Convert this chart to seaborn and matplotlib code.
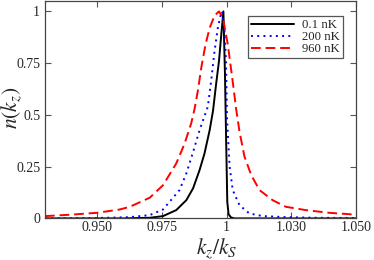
import numpy as np, pandas as pd
import matplotlib
matplotlib.use('Agg')
import matplotlib.pyplot as plt
import seaborn as sns

# values
x_01 = [0.930, 0.960, 0.9704, 0.9755, 0.9806, 0.9845, 0.9871, 0.9896, 0.9915, 0.9935,
        0.9948, 0.9960, 0.9971, 0.9979, 0.9988, 0.9994, 0.9999, 1.0003, 1.0008, 1.0017,
        1.0030, 1.050]
n_01 = [0.0, 0.0, 0.003, 0.011, 0.04, 0.088, 0.145, 0.233, 0.313, 0.426,
        0.52, 0.65, 0.76, 0.876, 1.0, 0.70, 0.35, 0.08, 0.02, 0.005,
        0.0, 0.0]

x_200 = [0.930, 0.950, 0.9627, 0.9704, 0.9755, 0.9819, 0.9845, 0.9871, 0.9896, 0.9928,
         0.9941, 0.9954, 0.9967, 0.9979, 0.9983, 0.9992, 0.9998, 1.0002, 1.0012, 1.0024,
         1.0050, 1.0088, 1.0140, 1.0229, 1.0350, 1.050]
n_200 = [0.0, 0.002, 0.006, 0.016, 0.043, 0.137, 0.217, 0.32, 0.426, 0.54,
         0.667, 0.81, 0.924, 0.99, 1.0, 0.91, 0.76, 0.48, 0.25, 0.137,
         0.064, 0.024, 0.011, 0.006, 0.003, 0.002]

x_960 = [0.930, 0.940, 0.950, 0.9588, 0.9627, 0.9704, 0.9755, 0.9806, 0.9838, 0.9864,
         0.9877, 0.9890, 0.9903, 0.9919, 0.9935, 0.9954, 0.9971, 0.9986, 1.0005, 1.0024,
         1.0037, 1.0050, 1.0069, 1.0095, 1.0127, 1.0178, 1.0229, 1.0306, 1.0396, 1.050]
n_960 = [0.011, 0.018, 0.027, 0.043, 0.056, 0.10, 0.16, 0.265, 0.36, 0.46,
         0.53, 0.62, 0.73, 0.84, 0.92, 0.98, 1.0, 0.97, 0.84, 0.66,
         0.53, 0.42, 0.30, 0.21, 0.137, 0.088, 0.056, 0.040, 0.027, 0.018]

labels = ['0.1 nK', '200 nK', '960 nK']
xticks = [0.95, 0.975, 1.0, 1.025, 1.05]
xtick_labels = ['0.950', '0.975', '1', '1.030', '1.050']
yticks = [0, 0.25, 0.5, 0.75, 1]
ytick_labels = ['0', '0.25', '0.5', '0.75', '1']

df = pd.concat([
    pd.DataFrame({'k': x_01, 'n': n_01, 'T': labels[0]}),
    pd.DataFrame({'k': x_200, 'n': n_200, 'T': labels[1]}),
    pd.DataFrame({'k': x_960, 'n': n_960, 'T': labels[2]}),
])

sns.set_style('ticks')
plt.rcParams['font.family'] = ['Liberation Serif', 'DejaVu Serif']
plt.rcParams['mathtext.fontset'] = 'stix'

fig = plt.figure(figsize=(3.74, 2.6), dpi=100)
ax = fig.add_axes([0.1203, 0.160, 0.832, 0.836])
sns.lineplot(data=df, x='k', y='n', hue='T', style='T', estimator=None, ax=ax,
             palette={labels[0]: 'black', labels[1]: '#0000ff', labels[2]: '#ff0000'},
             dashes={labels[0]: '', labels[1]: (1, 2.2), labels[2]: (5, 2.5)},
             linewidth=1.4)

ax.set_xlim(0.93, 1.05)
ax.set_ylim(0, 1.05)
ax.set_xticks(xticks); ax.set_xticklabels(xtick_labels)
ax.set_yticks(yticks); ax.set_yticklabels(ytick_labels)
ax.tick_params(direction='in', top=True, right=True, length=4, width=0.8,
               labelsize=10, color='#555555')
ax.tick_params(axis='x', pad=2)
for s in ax.spines.values():
    s.set_color('#444444'); s.set_linewidth(0.9)
ax.set_xlabel(r'$k_z/k_S$', fontsize=15.5)
ax.set_ylabel(r'$n(k_z)$', fontsize=15.5)
ax.xaxis.set_label_coords(0.553, -0.082)
ax.yaxis.set_label_coords(-0.068, 0.51)

leg = ax.legend(loc='upper right', bbox_to_anchor=(0.958, 0.931), borderaxespad=0,
                fontsize=9.2, handlelength=3.4, frameon=True, fancybox=False,
                edgecolor='#555555', framealpha=1, borderpad=0.25, labelspacing=0.0,
                handletextpad=0.6)
leg.get_frame().set_linewidth(0.9)

fig.savefig('out.png', dpi=100)
